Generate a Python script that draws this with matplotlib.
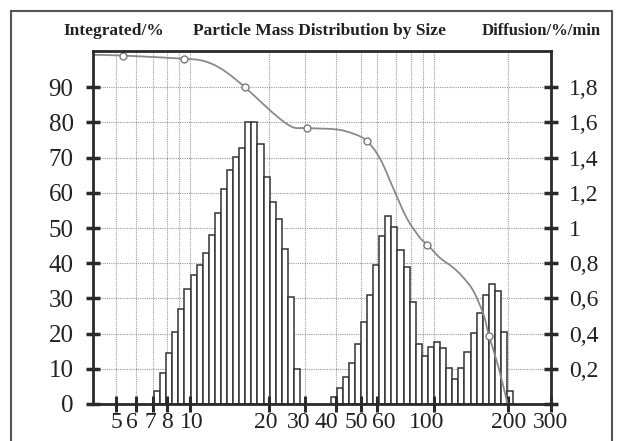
import matplotlib
matplotlib.use("Agg")
import matplotlib.pyplot as plt
from matplotlib.patches import Rectangle, PathPatch
from matplotlib.path import Path
import numpy as np

# ---------------- data ----------------
# bars: one value per size class (bin index on the chart's own size axis)
bins_group1 = list(range(0, 24))
mass_group1 = [3.7, 8.8, 14.4, 20.5, 27.0, 32.6, 36.7, 39.6, 42.9, 48.1, 54.4, 61.2,
               66.5, 70.2, 72.6, 80.0, 80.0, 73.9, 64.4, 57.5, 52.5, 44.0, 30.3, 10.0]
bins_group2 = list(range(29, 59))
mass_group2 = [2.1, 4.5, 7.6, 11.6, 17.0, 23.4, 31.1, 39.6, 47.8, 53.4, 50.4, 43.8,
               38.8, 28.9, 17.0, 13.7, 16.2, 17.6, 15.9, 10.1, 7.2, 10.2, 14.9, 20.2,
               25.8, 30.9, 34.0, 32.0, 20.5, 3.7]

# integrated curve (position in bin units, value in %)
curve_x = [-10.02, -5.05, 4.93, 7.56, 9.70, 11.95, 14.95, 17.96, 20.71, 22.89, 25.09,
           30.02, 32.75, 34.95, 37.14, 39.33, 41.53, 43.71, 44.91, 47.0, 49.19, 50.83,
           52.47, 54.12, 55.05, 56.58, 58.09]
curve_y = [99.2, 99.0, 98.1, 97.7, 96.5, 94.2, 90.0, 85.2, 81.0, 78.6, 78.4,
           78.0, 76.8, 74.8, 69.7, 61.2, 52.8, 47.2, 45.3, 41.5, 38.7, 35.9,
           32.1, 25.5, 19.3, 10.5, 0.0]
marker_idx = [1, 2, 6, 10, 13, 18, 24]

# size axis (µm): tick marks and label centres on the bin axis
size_labels = ["5", "6", "7", "8", "10", "20", "30", "40", "50", "60", "100", "200", "300"]
size_tick_pos = [-6.24, -3.01, -0.12, 2.09, 5.92, 18.95, 24.81, 29.96, 33.97, 36.7, 45.93, 58.18, 65.2]
size_label_pos = [-6.24, -3.62, -0.66, 2.09, 6.20, 18.36, 23.71, 28.38, 33.31, 37.68, 44.82, 58.23, 65.2]
minor_grid_pos = [4.16, 39.72, 42.19, 44.16]   # 9, 70, 80, 90

left_ticks = [0, 10, 20, 30, 40, 50, 60, 70, 80, 90]
right_ticks = [0, 0.2, 0.4, 0.6, 0.8, 1.0, 1.2, 1.4, 1.6, 1.8]
right_labels = ["", "0,2", "0,4", "0,6", "0,8", "1", "1,2", "1,4", "1,6", "1,8"]

# ---------------- figure ----------------
plt.rcParams['font.family'] = ['Liberation Serif', 'DejaVu Serif']
W, H = 620, 441
fig = plt.figure(figsize=(W / 100, H / 100), dpi=100)
fig.patch.set_facecolor("white")

L, R, T, B = 93, 551, 51, 404
ax = fig.add_axes([L / W, 1 - B / H, (R - L) / W, (B - T) / H])
ax.set_xlim(-10.02, 65.22)
ax.set_ylim(0, 100.3)

grid_kw = dict(color="#9a9a9a", lw=0.8, ls=(0, (1, 1)))
for yv in left_ticks[1:]:
    ax.axhline(yv, zorder=0.5, **grid_kw)
for xv in size_tick_pos[:-1] + minor_grid_pos:
    ax.axvline(xv, zorder=0.5, **grid_kw)

ax.bar(bins_group1, mass_group1, width=1, align="edge", facecolor="white",
       edgecolor="#333333", lw=1.1, zorder=1.2)
ax.bar(bins_group2, mass_group2, width=1, align="edge", facecolor="white",
       edgecolor="#333333", lw=1.1, zorder=1.2)

# smooth line through the read points (Catmull-Rom drawn as cubic Bezier path)
pts = np.column_stack([curve_x, curve_y])
ext = np.vstack([pts[0], pts, pts[-1]])
verts = [tuple(pts[0])]
codes = [Path.MOVETO]
for i in range(1, len(ext) - 2):
    p0, p1, p2, p3 = ext[i - 1], ext[i], ext[i + 1], ext[i + 2]
    c1 = p1 + (p2 - p0) / 6.0
    c2 = p2 - (p3 - p1) / 6.0
    verts += [tuple(c1), tuple(c2), tuple(p2)]
    codes += [Path.CURVE4] * 3
ax.add_patch(PathPatch(Path(verts, codes), fill=False, ec="#8a8a8a", lw=1.3, zorder=3))
ax.plot([curve_x[i] for i in marker_idx], [curve_y[i] for i in marker_idx], ls="none",
        marker="o", ms=5, mfc="white", mec="#7a7a7a", mew=1.0, zorder=4)

ax.xaxis.remove_overlapping_locs = False
ax.set_xticks(size_tick_pos)
ax.set_xticklabels([""] * len(size_tick_pos))
ax.set_xticks(size_label_pos, minor=True)
ax.set_xticklabels(size_labels, minor=True)
ax.set_yticks(left_ticks)
ax.set_yticklabels([str(v) for v in left_ticks])

for s in ax.spines.values():
    s.set_linewidth(2.0)
    s.set_color("#2a2a2a")
    s.set_zorder(5)

ax.tick_params(axis="x", which="major", direction="inout", length=11, width=2.2,
               color="#2a2a2a")
ax.tick_params(axis="x", which="minor", length=0, labelsize=17, pad=6)
ax.tick_params(axis="y", direction="inout", length=10, width=2.5, color="#2a2a2a",
               labelsize=18, pad=9)

ax2 = ax.twinx()
ax2.set_ylim(0, 100.3 / 50)
ax2.set_yticks(right_ticks)
ax2.set_yticklabels(right_labels)
ax2.tick_params(axis="y", direction="inout", length=10, width=2.5, color="#2a2a2a",
                labelsize=17, pad=8)
for s in ax2.spines.values():
    s.set_visible(False)

for t in (ax.get_xticklabels(minor=True) + ax.get_yticklabels() + ax2.get_yticklabels()):
    t.set_color("#222222")

# titles
ty = 1 - 31 / H
fig.text(63 / W, ty, "Integrated/%", fontsize=12.5, fontweight="bold", va="center",
         ha="left", color="#222222")
fig.text(193 / W, ty, "Particle Mass Distribution by Size", fontsize=12.5,
         fontweight="bold", va="center", ha="left", color="#222222")
fig.text(482 / W, ty, "Diffusion/%/min", fontsize=12, fontweight="bold", va="center",
         ha="left", color="#222222")

# outer frame
fig.add_artist(Rectangle((10.7 / W, -0.05), (612 - 10.7) / W, (1 - 10.7 / H) + 0.05,
                         transform=fig.transFigure, fill=False, ec="#555555", lw=1.5))

fig.savefig("out.png", dpi=100)
